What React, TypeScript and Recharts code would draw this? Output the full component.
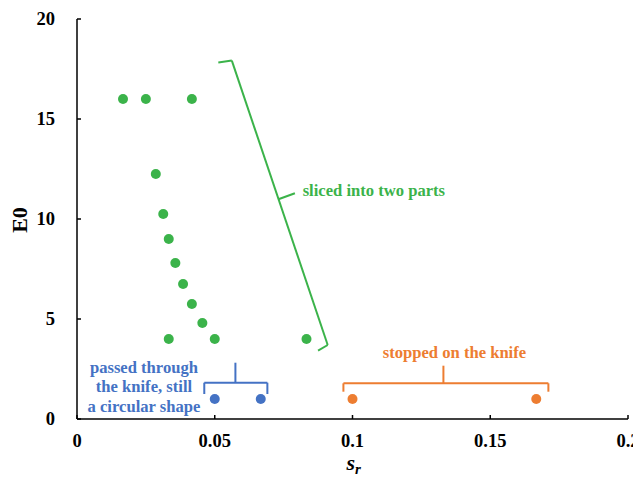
import React from 'react';
import { ScatterChart, Scatter, XAxis, YAxis, ReferenceLine, ReferenceDot } from 'recharts';

// ---- data ----
const slicedX = [0.0167, 0.025, 0.0417, 0.0286, 0.0313, 0.0333, 0.0357, 0.0385, 0.0417, 0.0455, 0.0333, 0.05, 0.0833];
const slicedY = [16, 16, 16, 12.25, 10.25, 9, 7.8, 6.75, 5.75, 4.8, 4, 4, 4];
const passedX = [0.05, 0.0667];
const passedY = [1, 1];
const stoppedX = [0.1, 0.1667];
const stoppedY = [1, 1];

const xTicks = [0, 0.05, 0.1, 0.15, 0.2];
const yTicks = [0, 5, 10, 15, 20];

const slicedLabel = 'sliced into two parts';
const passedLabel = ['passed through', 'the knife, still', 'a circular shape'];
const stoppedLabel = 'stopped on the knife';

// annotation bracket geometry (data coordinates)
const slicedBracket = [
  [{ x: 0.0513, y: 17.82 }, { x: 0.0562, y: 17.92 }],
  [{ x: 0.0562, y: 17.92 }, { x: 0.091, y: 3.7 }],
  [{ x: 0.091, y: 3.7 }, { x: 0.0875, y: 3.42 }],
  [{ x: 0.0731, y: 10.99 }, { x: 0.0791, y: 11.29 }],
];
const passedBracket = [
  [{ x: 0.0462, y: 1.25 }, { x: 0.0462, y: 1.815 }],
  [{ x: 0.0462, y: 1.815 }, { x: 0.0691, y: 1.815 }],
  [{ x: 0.0691, y: 1.815 }, { x: 0.0691, y: 1.25 }],
  [{ x: 0.0575, y: 1.815 }, { x: 0.0575, y: 2.815 }],
];
const stoppedBracket = [
  [{ x: 0.0967, y: 1.365 }, { x: 0.0967, y: 1.785 }],
  [{ x: 0.0967, y: 1.785 }, { x: 0.1711, y: 1.785 }],
  [{ x: 0.1711, y: 1.785 }, { x: 0.1711, y: 1.365 }],
  [{ x: 0.133, y: 1.785 }, { x: 0.133, y: 2.665 }],
];
const slicedTextPos = { x: 0.0819, y: 11.45 };
const passedTextPos = [
  { x: 0.0243, y: 2.615 },
  { x: 0.0243, y: 1.65 },
  { x: 0.0243, y: 0.665 },
];
const stoppedTextPos = { x: 0.137, y: 3.365 };

const GREEN = '#3bb34a';
const BLUE = '#4472c4';
const ORANGE = '#ed7d31';
const FONT = "'Liberation Serif', 'Times New Roman', Times, serif";

const toPoints = (xs: number[], ys: number[]) => xs.map((x, i) => ({ x, y: ys[i] }));

const dot = (color: string) => (props: any) => (
  <circle cx={props.cx} cy={props.cy} r={5} fill={color} />
);

const textStyle = { fontFamily: FONT, fontWeight: 700 } as React.CSSProperties;

const XTick = (props: any) => (
  <text x={props.x} y={props.y} dy="0.71em" textAnchor="middle" fontSize={18.5} fill="#000" style={textStyle}>
    {props.payload.value}
  </text>
);

const YTick = (props: any) => (
  <text x={props.x} y={props.y} dy="0.35em" textAnchor="end" fontSize={18.5} fill="#000" style={textStyle}>
    {props.payload.value}
  </text>
);

const XLabel = (props: any) => {
  const vb = props.viewBox;
  return (
    <text x={vb.x + vb.width / 2 - 6} y={vb.y + 51} fontSize={22} fill="#000" style={{ ...textStyle, fontStyle: 'italic' }}>
      s
      <tspan fontSize={15} dy={4}>r</tspan>
    </text>
  );
};

const YLabel = (props: any) => {
  const vb = props.viewBox;
  const cx = vb.x + 11;
  const cy = vb.y + vb.height / 2 + 1;
  return (
    <text x={cx} y={cy} dy="0.35em" transform={`rotate(-90, ${cx}, ${cy})`} textAnchor="middle" fontSize={22} fill="#000" style={textStyle}>
      E0
    </text>
  );
};

const annoLabel = (text: string, color: string, anchor: 'start' | 'middle') => (props: any) => {
  const vb = props.viewBox || {};
  const x = (vb.x ?? 0) + (vb.width ?? 0) / 2;
  const y = (vb.y ?? 0) + (vb.height ?? 0) / 2;
  return (
    <text x={x} y={y} dy="0.35em" textAnchor={anchor} fontSize={16.6} fill={color} style={textStyle}>
      {text}
    </text>
  );
};

export default function App() {
  return (
    <ScatterChart width={633} height={469} margin={{ top: 11, right: 13, bottom: 0, left: 0 }}>
      <XAxis type="number" dataKey="x" domain={[0, 0.2]} ticks={xTicks} height={58}
        axisLine={{ stroke: '#000', strokeWidth: 1.5 }} tickLine={{ stroke: '#000', strokeWidth: 1.5 }}
        tickSize={-4} tickMargin={19} tick={XTick} label={XLabel} />
      <YAxis type="number" dataKey="y" domain={[0, 20]} ticks={yTicks} width={69}
        axisLine={{ stroke: '#000', strokeWidth: 1.5 }} tickLine={{ stroke: '#000', strokeWidth: 1.5 }}
        tickSize={-4} tickMargin={26} tick={YTick} label={YLabel} />
      {slicedBracket.map((seg, i) => (
        <ReferenceLine key={'g' + i} segment={seg} stroke={GREEN} strokeWidth={2} ifOverflow="visible" />
      ))}
      {passedBracket.map((seg, i) => (
        <ReferenceLine key={'b' + i} segment={seg} stroke={BLUE} strokeWidth={2} ifOverflow="visible" />
      ))}
      {stoppedBracket.map((seg, i) => (
        <ReferenceLine key={'o' + i} segment={seg} stroke={ORANGE} strokeWidth={2} ifOverflow="visible" />
      ))}
      <Scatter data={toPoints(slicedX, slicedY)} fill={GREEN} shape={dot(GREEN)} isAnimationActive={false} />
      <Scatter data={toPoints(passedX, passedY)} fill={BLUE} shape={dot(BLUE)} isAnimationActive={false} />
      <Scatter data={toPoints(stoppedX, stoppedY)} fill={ORANGE} shape={dot(ORANGE)} isAnimationActive={false} />
      <ReferenceDot x={slicedTextPos.x} y={slicedTextPos.y} r={0} fillOpacity={0} stroke="none" ifOverflow="visible"
        label={{ content: annoLabel(slicedLabel, GREEN, 'start') }} />
      {passedTextPos.map((p, i) => (
        <ReferenceDot key={'pt' + i} x={p.x} y={p.y} r={0} fillOpacity={0} stroke="none" ifOverflow="visible"
          label={{ content: annoLabel(passedLabel[i], BLUE, 'middle') }} />
      ))}
      <ReferenceDot x={stoppedTextPos.x} y={stoppedTextPos.y} r={0} fillOpacity={0} stroke="none" ifOverflow="visible"
        label={{ content: annoLabel(stoppedLabel, ORANGE, 'middle') }} />
    </ScatterChart>
  );
}
